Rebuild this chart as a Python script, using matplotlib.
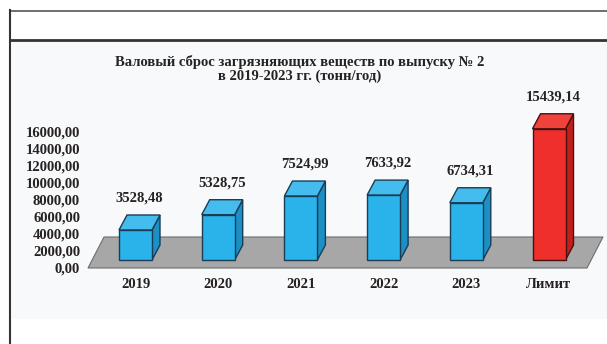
import numpy as np
import matplotlib
matplotlib.use("Agg")
import matplotlib.pyplot as plt
from matplotlib.patches import Polygon, Rectangle
from matplotlib.lines import Line2D
from matplotlib.transforms import ScaledTranslation

# ---- data ----
categories = ["2019", "2020", "2021", "2022", "2023", "Лимит"]
values = [3528.48, 5328.75, 7524.99, 7633.92, 6734.31, 15439.14]
ytick_values = [0, 2000, 4000, 6000, 8000, 10000, 12000, 14000, 16000]
title = "Валовый сброс загрязняющих веществ по выпуску № 2\nв 2019-2023 гг. (тонн/год)"

# ---- look ----
W, H, DPI = 607, 344, 100
PX_PER_CAT = 82.7        # pixels between neighbouring bars
PX_PER_1000 = 8.5        # pixels per 1000 t/yr
FONT = "Liberation Serif"
TXT = dict(family=FONT, fontsize=10.5, fontweight="bold", color="#262222")

face_colors = {"blue": ("#29b3ea", "#44bdee", "#1c8fc4", "#1b3c55"),
               "red": ("#ee2f2b", "#f0423a", "#c11f1c", "#4a1010")}
bar_styles = ["blue"] * 5 + ["red"]


def px_x(p):
    return p / PX_PER_CAT


def px_y(p):
    return p * 1000.0 / PX_PER_1000


fig = plt.figure(figsize=(W / DPI, H / DPI), dpi=DPI)
fig.patch.set_facecolor("white")

# frame around the block and the light panel under the chart
fig.add_artist(Rectangle((12 / W, 1 - 319 / H), 1, (319 - 41) / H,
                         transform=fig.transFigure, facecolor="#f8f9fb",
                         edgecolor="none", zorder=0))
fig.add_artist(Line2D([10 / W, 1], [1 - 10.5 / H] * 2, transform=fig.transFigure,
                      color="#555555", lw=1.2))
fig.add_artist(Line2D([10 / W, 1], [1 - 40 / H] * 2, transform=fig.transFigure,
                      color="#333333", lw=2.0))
fig.add_artist(Line2D([10 / W] * 2, [0, 1 - 10 / H], transform=fig.transFigure,
                      color="#333333", lw=1.5))

ax_left, base_px = 86, 84
ax = fig.add_axes([ax_left / W, 0, 1 - ax_left / W, 1])
ax.patch.set_visible(False)
x0_px = 135.5
ax.set_xlim(px_x(ax_left - x0_px), px_x(W - x0_px))
ax.set_ylim(-px_y(base_px), px_y(H - base_px))
for s in ax.spines.values():
    s.set_visible(False)
ax.set_xticks([])

x = np.arange(len(categories))
bw = px_x(33)
ddx, ddy = px_x(8), px_y(15)

# floor
fx0, fx1 = x[0] - px_x(47.5), x[-1] + px_x(38)
fy0, fy1 = -px_y(8), px_y(23)
fsh = px_x(16)
ax.add_patch(Polygon([(fx0, fy0), (fx1, fy0), (fx1 + fsh, fy1), (fx0 + fsh, fy1)],
                     closed=True, facecolor="#a7a7a7", edgecolor="#6d6d6d",
                     lw=0.8, zorder=1))

# pseudo 3d bars
for xi, v, st in zip(x, values, bar_styles):
    front, top, side, edge = face_colors[st]
    l, r = xi - bw / 2, xi + bw / 2
    ax.add_patch(Polygon([(r, 0), (r + ddx, ddy), (r + ddx, v + ddy), (r, v)],
                         closed=True, facecolor=side, edgecolor=edge, lw=1.0, zorder=2))
    ax.add_patch(Polygon([(l, v), (r, v), (r + ddx, v + ddy), (l + ddx, v + ddy)],
                         closed=True, facecolor=top, edgecolor=edge, lw=1.0, zorder=2))
    ax.add_patch(Rectangle((l, 0), bw, v, facecolor=front, edgecolor=edge,
                           lw=1.0, zorder=3))
    ax.annotate(f"{v:.2f}".replace(".", ","), xy=(xi + ddx / 2, v + ddy),
                xytext=(0, 17 * 72 / DPI), textcoords="offset points",
                ha="center", va="center", **TXT)
    ax.annotate(categories[xi], xy=(xi, 0), xytext=(0, -24 * 72 / DPI),
                textcoords="offset points", ha="center", va="center", **TXT)

# value axis
ax.set_yticks(ytick_values)
ax.set_yticklabels([f"{t:.2f}".replace(".", ",") for t in ytick_values], **TXT)
ax.tick_params(axis="y", length=0, pad=6 * 72 / DPI)
shift = ScaledTranslation(0, -8 / DPI, fig.dpi_scale_trans)
for lab in ax.get_yticklabels():
    lab.set_transform(lab.get_transform() + shift)

fig.text(300 / W, 1 - 69 / H, title, ha="center", va="center",
         linespacing=1.1, **TXT)

fig.savefig("out.png", dpi=DPI)
